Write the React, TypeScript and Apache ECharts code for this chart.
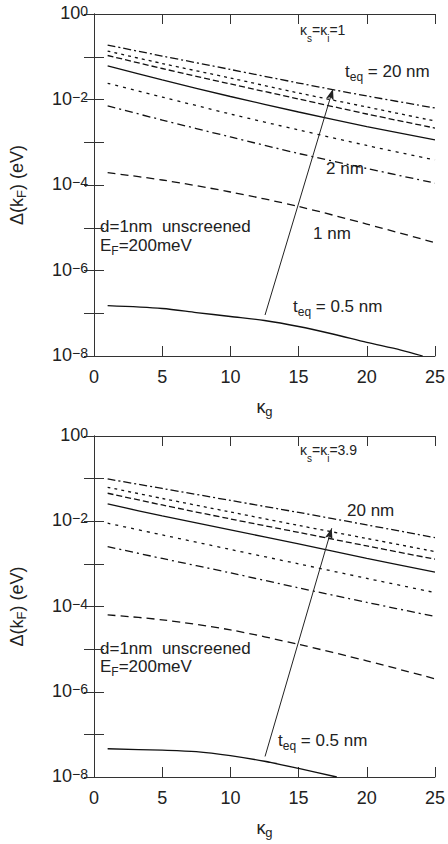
import React, { useEffect, useRef } from "react";
import * as echarts from "echarts";

// kappa_g sample points
const kappa = [1, 5, 10, 15, 20, 25];
const kappaThinTop = [1, 5, 7.5, 10, 12.5, 15, 17.5, 20, 22.5, 24.1];
const kappaThinBot = [1, 5, 7.5, 10, 12.5, 15, 17.8];

// top panel (kS = ki = 1), Delta(kF) in eV
const top20 = [0.188, 0.104, 0.0504, 0.0243, 0.0121, 0.00632];
const top15 = [0.136, 0.0695, 0.0318, 0.0142, 0.00668, 0.00314];
const top10 = [0.107, 0.0531, 0.0231, 0.0103, 0.00458, 0.00215];
const top5 = [0.0608, 0.0286, 0.01175, 0.0051, 0.00233, 0.00113];
const top3 = [0.0239, 0.01143, 0.00458, 0.00194, 0.00084, 0.000385];
const top2 = [0.00705, 0.00331, 0.00133, 0.000546, 0.000243, 0.000111];
const top1 = [1.94e-4, 1.31e-4, 6.86e-5, 3.14e-5, 1.22e-5, 4.47e-6];
const top05 = [1.5e-7, 1.29e-7, 1.04e-7, 8.4e-8, 6.77e-8, 4.9e-8, 3.27e-8, 2.09e-8, 1.38e-8, 1.0e-8];

// bottom panel (kS = ki = 3.9)
const bot20 = [0.0982, 0.0588, 0.0308, 0.0161, 0.0082, 0.00413];
const bot15 = [0.0627, 0.0343, 0.0165, 0.00798, 0.00395, 0.00194];
const bot10 = [0.0454, 0.0241, 0.01133, 0.00547, 0.00264, 0.00129];
const bot5 = [0.0255, 0.01333, 0.00626, 0.00294, 0.00134, 0.000637];
const bot3 = [0.009, 0.00478, 0.00218, 0.001, 0.000457, 0.000212];
const bot2 = [0.00254, 0.00134, 0.000615, 0.000274, 0.000125, 0.0000582];
const bot1 = [6.37e-5, 4.86e-5, 2.83e-5, 1.29e-5, 5.32e-6, 2.01e-6];
const bot05 = [4.6e-8, 4.25e-8, 3.92e-8, 3.16e-8, 2.34e-8, 1.59e-8, 1.0e-8];

// arrows (start, tip) in data coordinates
const arrowTop = [[12.54, 9.1e-8], [17.52, 0.0176]];
const arrowBot = [[12.54, 3.03e-8], [17.43, 0.00686]];

const xTicks = [0, 5, 10, 15, 20, 25];

const FONT = "Liberation Sans, Arial, sans-serif";
const INK = "#222";

const styles: Record<string, any> = {
  dashdot: [8, 3, 2, 3],
  dotted: [3, 4],
  dashed: [6, 3],
  solid: "solid",
  dotted2: [3, 5],
  dashdot2: [8, 4, 2, 4],
  dashed2: [8, 5],
};

function zip(xs: number[], ys: number[]) {
  return ys.map((y, i) => [xs[i], y]);
}

export default function App() {
  const ref = useRef<HTMLDivElement>(null);
  useEffect(() => {
    if (!ref.current) return;
    const chart = echarts.init(ref.current, undefined, { renderer: "svg" });

    const yLabel = (v: number) => {
      const e = Math.round(Math.log10(v));
      if (e % 2 !== 0) return "";
      return `{b|10}{s|${e === 0 ? "0" : "\u2212" + -e}}`;
    };
    const yRich = {
      b: { fontSize: 18, lineHeight: 20, verticalAlign: "top", fontFamily: FONT, color: INK },
      s: { fontSize: 14, lineHeight: 10, verticalAlign: "top", fontFamily: FONT, color: INK },
    };

    const mkX = (gridIndex: number, pos: string, showLabel: boolean) => ({
      type: "value",
      gridIndex,
      position: pos,
      min: xTicks[0],
      max: xTicks[xTicks.length - 1],
      interval: 5,
      axisLine: { show: true, lineStyle: { color: "#333", width: 1 } },
      axisTick: { show: true, inside: true, length: 10, lineStyle: { color: "#333" } },
      axisLabel: {
        show: showLabel,
        margin: 12,
        fontSize: 18,
        fontFamily: FONT,
        color: INK,
      },
      splitLine: { show: false },
      name: showLabel ? "{k|κ}{g|g}" : "",
      nameLocation: "middle",
      nameGap: 42,
      nameTextStyle: {
        rich: {
          k: { fontSize: 18, lineHeight: 20, verticalAlign: "top", fontFamily: FONT, color: INK },
          g: { fontSize: 13, lineHeight: 10, verticalAlign: "bottom", fontFamily: FONT, color: INK },
        },
      },
    });
    const mkY = (gridIndex: number, pos: string, showLabel: boolean) => ({
      type: "log",
      logBase: 10,
      gridIndex,
      position: pos,
      min: 1e-8,
      max: 1,
      interval: 1,
      splitNumber: 8,
      axisLine: { show: true, lineStyle: { color: "#333", width: 1 } },
      axisTick: { show: true, inside: true, length: 10, lineStyle: { color: "#333" } },
      axisLabel: {
        show: showLabel,
        margin: 6,
        formatter: yLabel,
        rich: yRich,
      },
      splitLine: { show: false },
      name: showLabel ? "{a|Δ(k}{s|F}{a|) (eV)}" : "",
      nameLocation: "middle",
      nameRotate: 90,
      nameGap: 66,
      nameTextStyle: {
        rich: {
          a: { fontSize: 18, lineHeight: 20, verticalAlign: "top", fontFamily: FONT, color: INK },
          s: { fontSize: 13, lineHeight: 10, verticalAlign: "bottom", fontFamily: FONT, color: INK },
        },
      },
    });

    const line = (name: string, xs: number[], ys: number[], type: any, panel: number, extra: any = {}) => ({
      name,
      type: "line",
      xAxisIndex: panel * 2,
      yAxisIndex: panel * 2,
      data: zip(xs, ys),
      showSymbol: false,
      symbol: "none",
      smooth: 0.3,
      lineStyle: { color: "#111", width: 1.3, type },
      ...extra,
    });

    const arrow = (pts: number[][]) => ({
      markLine: {
        silent: true,
        symbol: ["none", "arrow"],
        symbolSize: [6, 11],
        label: { show: false },
        lineStyle: { color: "#222", width: 1, type: "solid" },
        data: [[{ coord: pts[0] }, { coord: pts[1] }]],
      },
    });

    const sub = (base: number, s: number) => ({
      n: { fontSize: base, lineHeight: 20, verticalAlign: "top", fontFamily: FONT, fill: INK, color: INK },
      u: { fontSize: s, lineHeight: 10, verticalAlign: "bottom", fontFamily: FONT, fill: INK, color: INK },
    });
    const txt = (x: number, y: number, text: string, size = 17, subSize = 12) => ({
      type: "text",
      x,
      y,
      style: {
        text,
        rich: sub(size, subSize),
        verticalAlign: "middle",
        align: "left",
        fill: INK,
      },
    });

    const option: any = {
      animation: false,
      backgroundColor: "#fff",
      grid: [
        { left: 94, top: 14, width: 341, height: 342 },
        { left: 94, top: 436, width: 341, height: 341 },
      ],
      xAxis: [mkX(0, "bottom", true), mkX(0, "top", false), mkX(1, "bottom", true), mkX(1, "top", false)],
      yAxis: [mkY(0, "left", true), mkY(0, "right", false), mkY(1, "left", true), mkY(1, "right", false)],
      series: [
        line("top 20 nm", kappa, top20, styles.dashdot, 0),
        line("top 15 nm", kappa, top15, styles.dotted, 0),
        line("top 10 nm", kappa, top10, styles.dashed, 0),
        line("top 5 nm", kappa, top5, styles.solid, 0),
        line("top 3 nm", kappa, top3, styles.dotted2, 0),
        line("top 2 nm", kappa, top2, styles.dashdot2, 0),
        line("top 1 nm", kappa, top1, styles.dashed2, 0),
        line("top 0.5 nm", kappaThinTop, top05, styles.solid, 0, arrow(arrowTop)),
        line("bot 20 nm", kappa, bot20, styles.dashdot, 1),
        line("bot 15 nm", kappa, bot15, styles.dotted, 1),
        line("bot 10 nm", kappa, bot10, styles.dashed, 1),
        line("bot 5 nm", kappa, bot5, styles.solid, 1),
        line("bot 3 nm", kappa, bot3, styles.dotted2, 1),
        line("bot 2 nm", kappa, bot2, styles.dashdot2, 1),
        line("bot 1 nm", kappa, bot1, styles.dashed2, 1),
        line("bot 0.5 nm", kappaThinBot, bot05, styles.solid, 1, arrow(arrowBot)),
      ],
      graphic: [
        txt(300, 33, "{n|κ}{u|s}{n|=κ}{u|i}{n|=1}", 14, 10),
        txt(345, 73, "{n|t}{u|eq}{n| = 20 nm}"),
        txt(326, 170, "{n|2 nm}"),
        txt(313, 235, "{n|1 nm}"),
        txt(100, 228, "{n|d=1nm  unscreened}"),
        txt(100, 247, "{n|E}{u|F}{n|=200meV}"),
        txt(293, 308, "{n|t}{u|eq}{n| = 0.5 nm}"),
        txt(300, 453, "{n|κ}{u|s}{n|=κ}{u|i}{n|=3.9}", 14, 10),
        txt(347, 512, "{n|20 nm}"),
        txt(100, 650, "{n|d=1nm  unscreened}"),
        txt(100, 668, "{n|E}{u|F}{n|=200meV}"),
        txt(278, 742, "{n|t}{u|eq}{n| = 0.5 nm}"),
      ],
    };
    chart.setOption(option);
    return () => chart.dispose();
  }, []);
  return (
    <div
      ref={ref}
      style={{ position: "absolute", left: 0, top: 0, width: 448, height: 844, background: "#fff" }}
    />
  );
}
